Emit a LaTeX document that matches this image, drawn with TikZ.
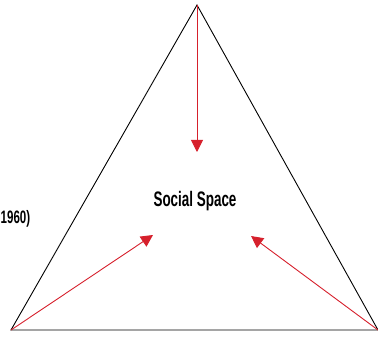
\documentclass[tikz,border=0pt]{standalone}
\usepackage{fontspec}
\setsansfont{Liberation Sans}[FakeStretch=0.64]
\usetikzlibrary{arrows.meta}
\definecolor{arrowred}{RGB}{214,32,44}
\tikzset{
  edge/.style={draw=black, line width=0.9pt},
  force/.style={draw=arrowred, line width=0.9pt, -{Triangle[length=12pt,width=12pt]}},
  lbl/.style={font=\sffamily\bfseries\fontsize{21}{23}\selectfont, inner sep=0pt}
}
\begin{document}
\begin{tikzpicture}[x=1pt,y=-1pt]
\useasboundingbox (0,0) rectangle (378,337);
\coordinate (top) at (197,5);
\coordinate (bl) at (11,330);
\coordinate (br) at (378,330);
\coordinate (t1) at (197,152);
\coordinate (t2) at (153,235);
\coordinate (t3) at (251,236);
\draw[edge] (bl) -- (top) -- (br) -- cycle;
\draw[force] (top) -- (t1);
\draw[force] (bl) -- (t2);
\draw[force] (br) -- (t3);
\node[lbl] (ss) at (195,201) {Social Space};
\node[lbl, anchor=west, font=\sffamily\bfseries\fontsize{18}{20}\selectfont] (yr) at (0.5,219) {1960)};
\end{tikzpicture}
\end{document}
